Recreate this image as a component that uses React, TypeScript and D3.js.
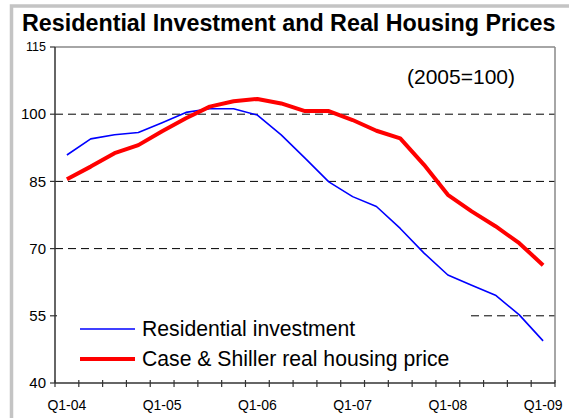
import React from "react";
import * as d3 from "d3";

const quarters = [
  "Q1-04","Q2-04","Q3-04","Q4-04",
  "Q1-05","Q2-05","Q3-05","Q4-05",
  "Q1-06","Q2-06","Q3-06","Q4-06",
  "Q1-07","Q2-07","Q3-07","Q4-07",
  "Q1-08","Q2-08","Q3-08","Q4-08",
  "Q1-09",
];
const residentialInvestment = [
  90.9, 94.5, 95.4, 95.9, 98.1, 100.4, 101.2, 101.2, 99.8, 95.4, 90.2,
  84.9, 81.6, 79.4, 74.5, 69.0, 64.1, 61.8, 59.6, 55.2, 49.4,
];
const realHousingPrice = [
  85.5, 88.3, 91.3, 93.1, 96.2, 99.1, 101.7, 102.9, 103.4, 102.4, 100.7,
  100.7, 98.7, 96.3, 94.6, 88.7, 82.0, 78.3, 75.0, 71.2, 66.3,
];
const yTicks = [40, 55, 70, 85, 100, 115];
const gridValues = [55, 70, 85, 100];
const xLabelQuarters = ["Q1-04", "Q1-05", "Q1-06", "Q1-07", "Q1-08", "Q1-09"];
const seriesNames = ["Residential investment", "Case & Shiller real housing price"];

const FONT = "'Liberation Sans', Arial, Helvetica, sans-serif";

export default function App() {
  const W = 569, H = 418;
  const left = 55, right = 555, top = 47, bottom = 383;
  const x = d3.scaleLinear().domain([-0.5, quarters.length - 0.5]).range([left, right]);
  const y = d3.scaleLinear().domain([40, 115]).range([bottom, top]);
  const line = d3.line<number>().x((_, i) => x(i)).y((v) => y(v));
  const tickIdx = d3.range(quarters.length + 1);

  return (
    <svg width={W} height={H} style={{ position: "absolute", left: 0, top: 0, background: "#fff" }}>
      <rect x={0} y={0} width={W} height={H} fill="#fff" />
      {/* outer frame */}
      <rect x={11.5} y={6} width={W + 20} height={H + 20} fill="none" stroke="#c4c4c4" strokeWidth={3.5} />
      <text x={22} y={31} fontFamily={FONT} fontWeight="bold" fontSize={23.3} fill="#000">
        Residential Investment and Real Housing Prices
      </text>

      {/* gridlines */}
      {gridValues.map((v) => (
        <line key={v} x1={left} x2={right} y1={y(v)} y2={y(v)} stroke="#000" strokeWidth={1} strokeDasharray="8,5" />
      ))}

      {/* plot border top/right */}
      <line x1={left} x2={right} y1={top} y2={top} stroke="#888" strokeWidth={1.5} />
      <line x1={right} x2={right} y1={top} y2={bottom} stroke="#888" strokeWidth={1.5} />

      {/* series */}
      <path d={line(residentialInvestment) || ""} fill="none" stroke="#0000ff" strokeWidth={1.6} strokeLinejoin="round" />
      <path d={line(realHousingPrice) || ""} fill="none" stroke="#ff0000" strokeWidth={4} strokeLinejoin="round" />

      {/* legend */}
      <rect x={57} y={308} width={411} height={66} fill="#fff" />
      <line x1={80} x2={135} y1={329} y2={329} stroke="#0000ff" strokeWidth={1.6} />
      <line x1={80} x2={135} y1={359} y2={359} stroke="#ff0000" strokeWidth={4} />
      <text x={142} y={336} fontFamily={FONT} fontSize={21.2} fill="#000">{seriesNames[0]}</text>
      <text x={142} y={366} fontFamily={FONT} fontSize={21.2} fill="#000">{seriesNames[1]}</text>

      {/* axes */}
      <line x1={left} x2={left} y1={top} y2={bottom} stroke="#333" strokeWidth={1.5} />
      <line x1={left} x2={right} y1={bottom} y2={bottom} stroke="#333" strokeWidth={1.5} />
      {yTicks.map((v) => (
        <g key={v}>
          <line x1={left - 5} x2={left} y1={y(v)} y2={y(v)} stroke="#333" strokeWidth={1.2} />
          <text
            x={left - 9}
            y={y(v)}
            dy="0.35em"
            textAnchor="end"
            fontFamily={FONT}
            fontSize={v === 115 ? 12.5 : 15}
            fill="#000"
          >
            {v}
          </text>
        </g>
      ))}
      {tickIdx.map((i) => (
        <line key={i} x1={x(i - 0.5)} x2={x(i - 0.5)} y1={bottom - 3} y2={bottom + 4} stroke="#333" strokeWidth={1.2} />
      ))}
      {xLabelQuarters.map((q) => {
        const i = quarters.indexOf(q);
        return (
          <text key={q} x={x(i)} y={410} textAnchor="middle" fontFamily={FONT} fontSize={14} fill="#000">
            {q}
          </text>
        );
      })}

      <text x={461} y={84} textAnchor="middle" fontFamily={FONT} fontSize={21} fill="#000">(2005=100)</text>
    </svg>
  );
}
